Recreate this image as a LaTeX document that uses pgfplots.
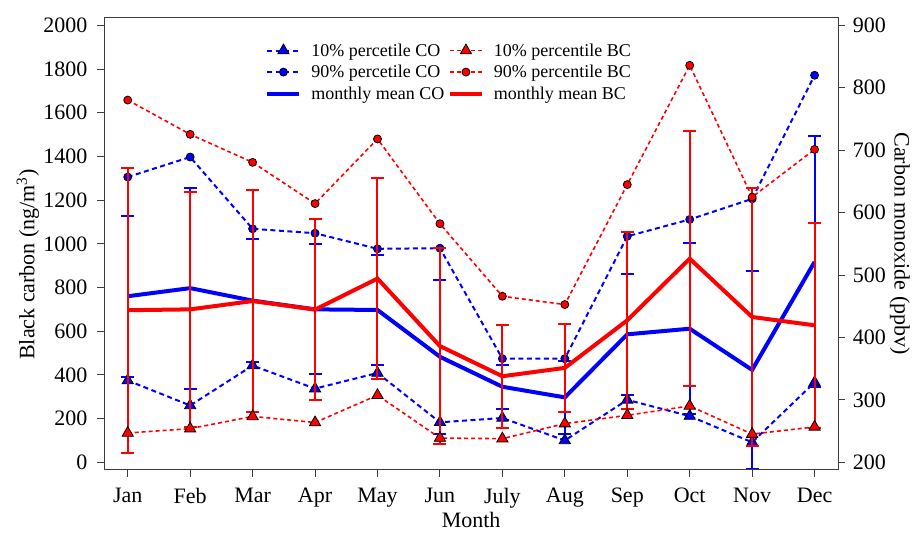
\documentclass[border=0pt]{standalone}
\usepackage{pgfplots}
\usepackage{pgfplotstable}
\pgfplotsset{compat=1.18}
\usepackage{fontspec}
\setmainfont{Liberation Serif}

% CO in ppbv
\pgfplotstableread{
m co10 co90 comean costd
1  331 657 466 129
2  291 689 479 161
3  355 574 459  98
4  318 567 445 104
5  343 542 444  88
6  264 543 369 123
7  271 366 321  35
8  235 366 304  59
9  300 562 405  97
10 274 589 414 137
11 232 622 348 158
12 328 820 521 201
}\codata

% BC in ng/m3
\pgfplotstableread{
m bc10 bc90 bcmean bcstd
1  134 1658 696 652
2  154 1501 700 537
3  210 1373 738 510
4  182 1184 699 415
5  307 1480 841 459
6  111 1092 532 449
7  108  760 394 235
8  177  722 432 200
9  215 1271 650 404
10 258 1817 932 584
11 129 1214 665 590
12 162 1432 627 470
}\bcdata

\definecolor{axgray}{RGB}{60,60,60}

\begin{document}
\begin{tikzpicture}[font=\fontsize{22}{26}\selectfont]
\pgfplotsset{
  common/.style={
    scale only axis, width=734.3pt, height=451.8pt,
    xmin=0.62, xmax=12.38,
    tick align=outside,
    major tick length=7pt,
    /pgf/number format/assume math mode=true,
    /pgf/number format/1000 sep={},
    tick label style={font=\fontsize{22}{26}\selectfont},
    label style={font=\fontsize{22}{26}\selectfont},
    axis line style={line width=0.9pt, axgray},
    tick style={line width=0.9pt, axgray},
    xtick={1,...,12},
    xticklabels={Jan,Feb,Mar,Apr,May,Jun,July,Aug,Sep,Oct,Nov,Dec},
    xticklabel style={yshift=-8pt},
  },
  codash/.style={blue, line width=2pt, dash pattern=on 5pt off 3.5pt},
  bcdash/.style={red, line width=1.6pt, dash pattern=on 4pt off 3pt},
}
% ---------- CO axis (right) ----------
\begin{axis}[common,
  ymin=188.45, ymax=912.25,
  axis y line*=right, axis x line=none,
  ytick={200,300,...,900},
  yticklabel style={xshift=4pt},
  ylabel={Carbon monoxide (ppbv)},
  ylabel style={at={(axis description cs:1.084,0.5)}, anchor=center, rotate=180},
]
\addplot[codash, mark=triangle*, mark size=6.5pt,
  mark options={solid, fill=blue, draw=black, line width=0.8pt}]
  table[x=m, y=co10]{\codata};
\addplot[codash, mark=*, mark size=4pt,
  mark options={solid, fill=blue, draw=black, line width=0.8pt}]
  table[x=m, y=co90]{\codata};
\addplot[blue, line width=4pt,
  error bars/.cd, y dir=both, y explicit,
  error bar style={line width=2pt, solid, blue},
  error mark options={rotate=90, mark size=6.5pt, line width=2pt, blue}]
  table[x=m, y=comean, y error=costd]{\codata};
\end{axis}
% ---------- BC axis (left) ----------
\begin{axis}[common,
  ymin=-33, ymax=2035,
  xtick pos=bottom, ytick pos=left,
  ytick={0,200,...,2000},
  yticklabel style={xshift=-6pt},
  ylabel={Black carbon (ng/m\textsuperscript{3})},
  ylabel style={at={(axis description cs:-0.1035,0.4535)}, anchor=center},
  xlabel={Month},
  xlabel style={at={(axis description cs:0.5,-0.1107)}, anchor=center},
  legend columns=2,
  legend cell align=left,
  legend style={draw=none, fill=none, at={(axis description cs:0.2155,0.952)}, anchor=north west,
    font=\fontsize{18}{21}\selectfont, row sep=3.5pt,
    /tikz/every odd column/.append style={column sep=8pt},
    /tikz/every even column/.append style={column sep=1.5pt}},
  legend image code/.code={\draw[mark repeat=2,mark phase=2] plot coordinates {(0pt,0pt) (16pt,0pt) (32pt,0pt)};},
]
\coordinate (SW) at (rel axis cs:0,0);
\coordinate (NE) at (rel axis cs:1,1);
\addlegendimage{codash, mark=triangle*, mark size=6.5pt, mark options={solid, fill=blue, draw=black, line width=0.8pt}}
\addlegendentry{10\% percetile CO}
\addlegendimage{bcdash, mark=triangle*, mark size=6.5pt, mark options={solid, fill=red, draw=black, line width=0.8pt}}
\addlegendentry{10\% percentile BC}
\addlegendimage{codash, mark=*, mark size=4pt, mark options={solid, fill=blue, draw=black, line width=0.8pt}}
\addlegendentry{90\% percetile CO}
\addlegendimage{bcdash, mark=*, mark size=4pt, mark options={solid, fill=red, draw=black, line width=0.8pt}}
\addlegendentry{90\% percentile BC}
\addlegendimage{blue, line width=4pt}
\addlegendentry{monthly mean CO}
\addlegendimage{red, line width=4pt}
\addlegendentry{monthly mean BC}

\addplot[bcdash, mark=triangle*, mark size=6.5pt, forget plot,
  mark options={solid, fill=red, draw=black, line width=0.8pt}]
  table[x=m, y=bc10]{\bcdata};
\addplot[bcdash, mark=*, mark size=4pt, forget plot,
  mark options={solid, fill=red, draw=black, line width=0.8pt}]
  table[x=m, y=bc90]{\bcdata};
\addplot[red, line width=4pt, forget plot,
  error bars/.cd, y dir=both, y explicit,
  error bar style={line width=2pt, solid, red},
  error mark options={rotate=90, mark size=6.5pt, line width=2pt, red}]
  table[x=m, y=bcmean, y error=bcstd]{\bcdata};
\end{axis}
\pgfresetboundingbox
\path[use as bounding box] ([xshift=-104pt,yshift=-62.5pt]SW) rectangle ([xshift=75.7pt,yshift=17.7pt]NE);
\end{tikzpicture}
\end{document}
